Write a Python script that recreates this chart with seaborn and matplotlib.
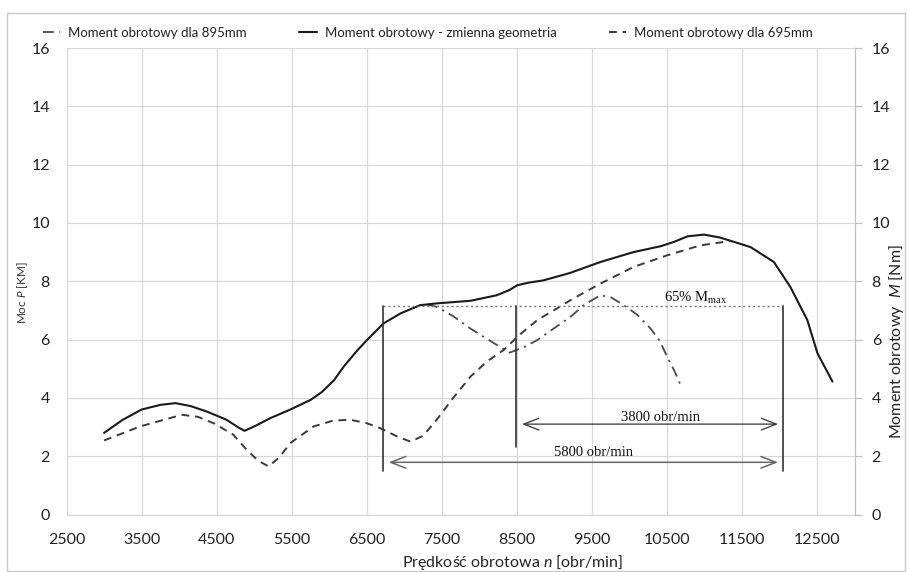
import matplotlib
matplotlib.use("Agg")
import matplotlib.pyplot as plt
import seaborn as sns
import pandas as pd
from matplotlib.patches import Rectangle

# ---------------- data ----------------
rpm_var = [3000, 3250, 3500, 3750, 3950, 4150, 4370, 4630, 4780, 4870, 5000, 5210, 5480,
           5750, 5900, 6060, 6200, 6370, 6500, 6720, 6950, 7210, 7430, 7880, 8230, 8400,
           8500, 8650, 8850, 9200, 9610, 10050, 10410, 10590, 10770, 10990, 11200, 11390,
           11610, 11920, 12140, 12365, 12500, 12700]
m_var = [2.80, 3.25, 3.60, 3.76, 3.82, 3.72, 3.53, 3.25, 3.00, 2.87, 3.02, 3.30, 3.60,
         3.93, 4.20, 4.60, 5.10, 5.62, 5.98, 6.55, 6.90, 7.18, 7.24, 7.33, 7.52, 7.70,
         7.86, 7.95, 8.03, 8.28, 8.66, 9.00, 9.20, 9.35, 9.54, 9.60, 9.50, 9.35,
         9.17, 8.66, 7.80, 6.67, 5.53, 4.56]

rpm_695 = [3000, 3480, 4035, 4250, 4460, 4720, 4900, 5050, 5190, 5330, 5480, 5790, 6050,
           6280, 6500, 6680, 6900, 7080, 7250, 7430, 7650, 7880, 8100, 8320, 8550, 8770,
           9000, 9210, 9610, 10050, 10500, 10940, 11340]
m_695 = [2.54, 3.02, 3.42, 3.35, 3.13, 2.74, 2.22, 1.85, 1.65, 1.95, 2.45, 3.02, 3.22,
         3.25, 3.13, 2.96, 2.68, 2.50, 2.70, 3.25, 4.00, 4.73, 5.25, 5.64, 6.20, 6.67,
         7.02, 7.35, 7.92, 8.49, 8.89, 9.23, 9.38]

rpm_895 = [7300, 7434, 7650, 7878, 8050, 8234, 8400, 8600, 8767, 9000, 9211, 9400, 9610,
           9750, 9921, 10100, 10277, 10400, 10499, 10600, 10677]
m_895 = [7.20, 7.12, 6.80, 6.38, 6.10, 5.81, 5.55, 5.75, 5.98, 6.40, 6.78, 7.20, 7.52,
         7.45, 7.18, 6.85, 6.38, 5.95, 5.41, 4.90, 4.44]

labels = ["Moment obrotowy dla 895mm", "Moment obrotowy - zmienna geometria",
          "Moment obrotowy dla 695mm"]

x_ticks = [2500, 3500, 4500, 5500, 6500, 7500, 8500, 9500, 10500, 11500, 12500]
y_ticks = [0, 2, 4, 6, 8, 10, 12, 14, 16]

# annotation values
level_65 = 7.14
n_left, n_mid, n_right = 6715, 8490, 12040
arrow_3800 = (8566, 11975, 3.10)
arrow_5800 = (6790, 11975, 1.79)

# ---------------- style ----------------
sns.set_theme(style="white")
plt.rcParams['font.family'] = ['Lato', 'DejaVu Sans']
plt.rcParams['mathtext.fontset'] = 'custom'
plt.rcParams['mathtext.rm'] = 'Lato'
plt.rcParams['mathtext.it'] = 'Lato:italic'

fig = plt.figure(figsize=(9.07, 5.72), dpi=100)
L, R, T, B = 66.5, 855, 48, 514.5
ax = fig.add_axes([L / 907, 1 - B / 572, (R - L) / 907, (B - T) / 572])

df_var = pd.DataFrame({"n": rpm_var, "M": m_var})
df_695 = pd.DataFrame({"n": rpm_695, "M": m_695})
df_895 = pd.DataFrame({"n": rpm_895, "M": m_895})

sns.lineplot(data=df_895, x="n", y="M", ax=ax, color="#4a4a4a", lw=1.3,
             linestyle=(0, (6, 3, 1.2, 3)), label=labels[0])
sns.lineplot(data=df_var, x="n", y="M", ax=ax, color="#1a1a1a", lw=1.5,
             label=labels[1])
sns.lineplot(data=df_695, x="n", y="M", ax=ax, color="#3a3a3a", lw=1.4,
             linestyle=(0, (4, 3)), label=labels[2])

ax.set_xlim(2500, 13000)
ax.set_ylim(0, 16)
ax.set_xticks(x_ticks)
ax.set_yticks(y_ticks)
ax.grid(True, color="#d9d9d9", lw=0.9)
for s in ["top", "left", "right"]:
    ax.spines[s].set_visible(False)
ax.spines["bottom"].set_color("#d9d9d9")
ax.spines["bottom"].set_linewidth(0.9)
ax.tick_params(axis="x", length=0, pad=13, labelsize=11.5, colors="#222222")
ax.tick_params(axis="y", length=0, pad=12, labelsize=11.5, colors="#222222")
ax.set_xlabel("")
ax.set_ylabel("")

ax2 = ax.twinx()
ax2.set_ylim(0, 16)
ax2.set_yticks(y_ticks)
for s in ["top", "left", "bottom"]:
    ax2.spines[s].set_visible(False)
ax2.spines["right"].set_color("#bfbfbf")
ax2.spines["right"].set_linewidth(0.9)
ax2.tick_params(axis="y", length=5, width=0.9, color="#bfbfbf", pad=7,
                labelsize=11.5, labelcolor="#222222")
ax2.grid(False)

# ---------------- annotations ----------------
ax.plot([n_left, n_right], [level_65, level_65], color="#777777", lw=1.0,
        linestyle=(0, (1.5, 2)))
ax.plot([n_left, n_left], [level_65, 1.48], color="#333333", lw=1.2)
ax.plot([n_mid, n_mid], [level_65, 2.30], color="#333333", lw=1.2)
ax.plot([n_right, n_right], [level_65, 1.48], color="#333333", lw=1.2)

ax.annotate("", xy=(arrow_3800[0], arrow_3800[2]), xytext=(arrow_3800[1], arrow_3800[2]),
            arrowprops=dict(arrowstyle="<->,head_length=0.9,head_width=0.35",
                            color="#333333", lw=0.9, shrinkA=0, shrinkB=0))
ax.annotate("", xy=(arrow_5800[0], arrow_5800[2]), xytext=(arrow_5800[1], arrow_5800[2]),
            arrowprops=dict(arrowstyle="<->,head_length=0.9,head_width=0.35",
                            color="#666666", lw=1.1, shrinkA=0, shrinkB=0))

serif = ['Liberation Serif', 'DejaVu Serif']
ax.text(10410, 3.33, "3800 obr/min", family=serif, fontsize=10.5, ha="center",
        va="center", color="#111111")
ax.text(9520, 2.12, "5800 obr/min", family=serif, fontsize=10.5, ha="center",
        va="center", color="#111111")
ax.text(10880, 7.30, r"65% $\mathregular{M_{max}}$", family=serif, fontsize=10.5,
        ha="center", va="baseline", color="#111111")

# ---------------- axis titles ----------------
fig.text(513 / 907, 1 - 562 / 572, r"Prędkość obrotowa $\it{n}$ [obr/min]",
         ha="center", va="center", fontsize=11.5, color="#222222")
fig.text(23 / 907, 1 - 293 / 572, r"Moc $\it{P}$ [KM]", ha="center", va="center",
         rotation=90, fontsize=8.5, color="#333333")
fig.text(897 / 907, 1 - 342 / 572, r"Moment obrotowy  $\it{M}$ [Nm]", ha="center",
         va="center", rotation=90, fontsize=11.5, color="#222222")

# ---------------- legend ----------------
h, lab = ax.get_legend_handles_labels()
if ax.get_legend() is not None:
    ax.get_legend().remove()
fig.legend(h, lab, loc="center", ncol=3, bbox_to_anchor=(428 / 907, 1 - 33 / 572),
           frameon=False, fontsize=9.5, handlelength=1.3, handletextpad=0.6,
           columnspacing=4.0, labelcolor="#222222")

# chart-area frame
fig.patches.append(Rectangle((7 / 907, 1 - 570.5 / 572), 898 / 907, 558 / 572,
                             transform=fig.transFigure, fill=False,
                             edgecolor="#c8c8c8", lw=1.0))

fig.savefig("out.png", dpi=100)
